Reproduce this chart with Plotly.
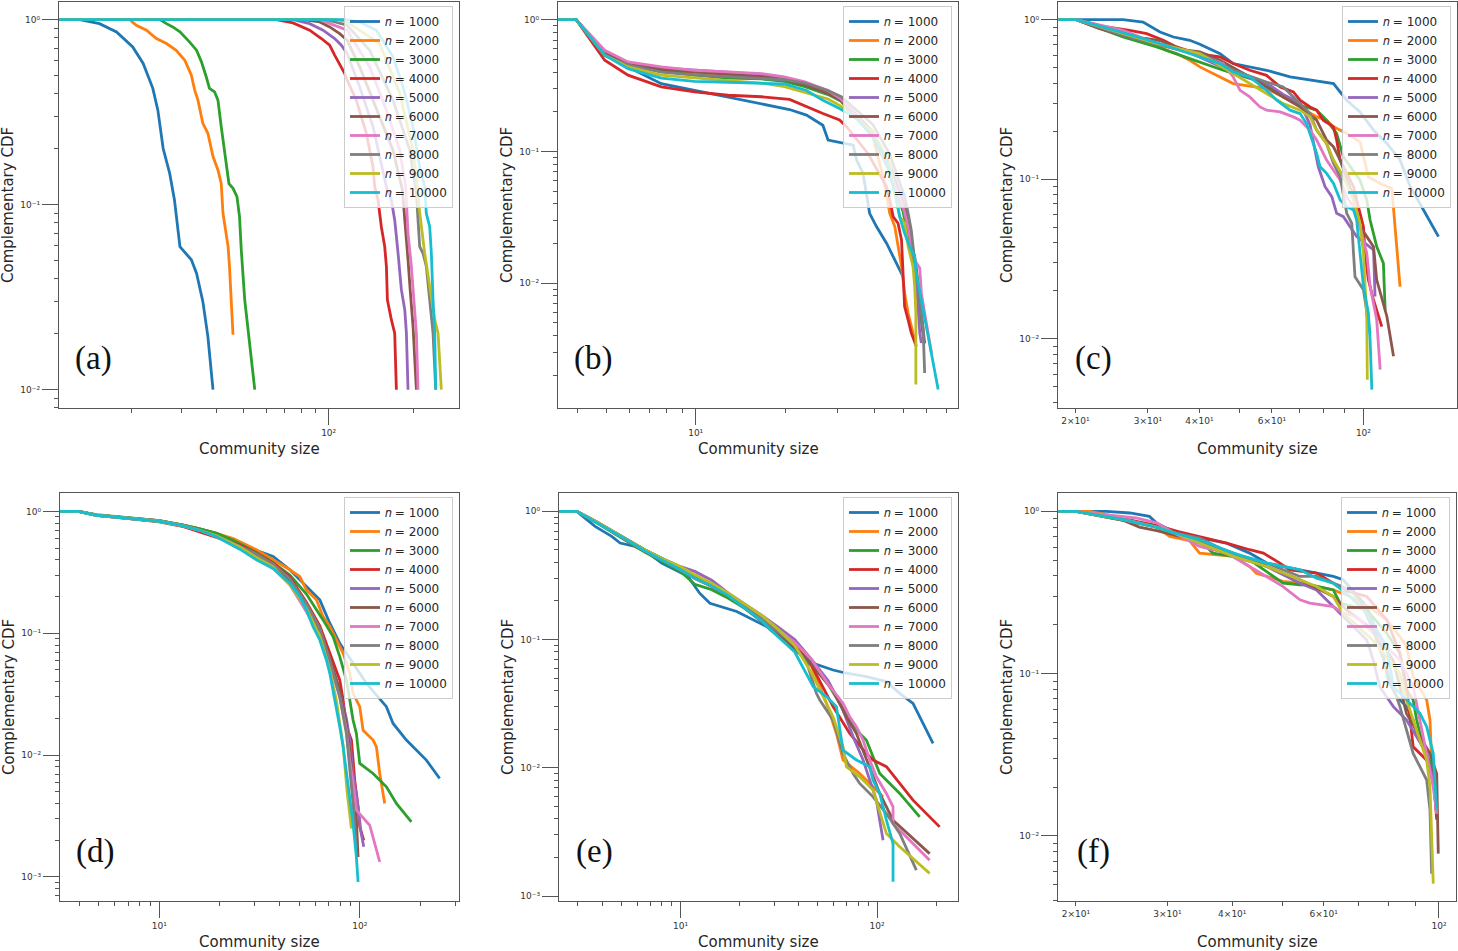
import math
import plotly.graph_objects as go

# ---------------- data ----------------
N_VALUES = [1000, 2000, 3000, 4000, 5000, 6000, 7000, 8000, 9000, 10000]
COLORS = ['#1f77b4', '#ff7f0e', '#2ca02c', '#d62728', '#9467bd',
          '#8c564b', '#e377c2', '#7f7f7f', '#bcbd22', '#17becf']
PANEL_LABELS = ['(a)', '(b)', '(c)', '(d)', '(e)', '(f)']
X_TITLE = 'Community size'
Y_TITLE = 'Complementary CDF'

A_X = [
    [11, 13.1, 15.4, 17.7, 20.2, 22.0, 23.8, 24.8, 25.9, 27.3, 28.4, 29.7, 32.6, 34.0, 35.8, 37.3, 38.9],
    [11, 19.7, 20.8, 22.6, 24.5, 26.6, 28.8, 30.9, 32.6, 33.5, 34.4, 35.8, 37.3, 38.9, 40.5, 41.6, 42.2, 43.4, 44.0, 44.5, 45.8],
    [11, 25.2, 26.6, 28.0, 29.7, 30.9, 32.1, 34.0, 35.4, 36.8, 37.8, 39.4, 40.5, 41.6, 42.8, 44.3, 45.8, 47.3, 48.3, 49.0, 50.4, 52.5, 54.7],
    [11, 65.2, 74.7, 85.6, 94.2, 100.8, 105.0, 109.4, 114.0, 116.2, 125.3, 136.0, 143.6, 145.6, 149.6, 153.7, 158.0, 160.2, 161.5, 166.8, 171.4, 173.8],
    [11, 74.7, 85.6, 95.5, 105.0, 110.9, 116.2, 128.8, 143.6, 151.6, 160.2, 166.8, 171.4, 176.2, 181.0, 186.1, 188.6, 191.1],
    [11, 81.1, 92.9, 100.8, 109.4, 116.2, 128.8, 151.6, 169.0, 182.5, 186.1, 191.1, 194.9, 199.1, 204.6],
    [11, 92.9, 116.2, 139.8, 160.2, 178.6, 187.5, 191.1, 196.4, 200.2, 204.6, 207.4],
    [11, 98.1, 116.2, 139.8, 169.0, 193.8, 204.6, 207.4, 210.2, 216.0, 221.9, 228.1, 234.4, 239.6],
    [11, 106.5, 116.2, 151.6, 178.6, 199.1, 207.4, 209.1, 213.2, 219.0, 228.1, 237.6, 244.2, 250.8],
    [11, 115.5, 128.8, 147.6, 169.0, 183.5, 199.1, 210.2, 219.0, 221.9, 228.1, 231.2, 234.4, 237.6, 239.6],
]
A_Y = [
    [1, 1, 0.951, 0.858, 0.712, 0.579, 0.425, 0.324, 0.201, 0.148, 0.106, 0.0593, 0.0503, 0.0426, 0.030, 0.0194, 0.01],
    [1, 1, 0.932, 0.876, 0.790, 0.742, 0.683, 0.603, 0.501, 0.416, 0.367, 0.275, 0.243, 0.182, 0.154, 0.130, 0.0898, 0.070, 0.0593, 0.0463, 0.0198],
    [1, 1, 0.951, 0.913, 0.858, 0.806, 0.758, 0.683, 0.591, 0.491, 0.425, 0.407, 0.367, 0.264, 0.197, 0.130, 0.1225, 0.1105, 0.0861, 0.0569, 0.0306, 0.0179, 0.01],
    [1, 1, 0.959, 0.876, 0.790, 0.727, 0.642, 0.567, 0.511, 0.471, 0.367, 0.243, 0.160, 0.125, 0.106, 0.076, 0.0593, 0.0463, 0.0306, 0.0239, 0.0202, 0.01],
    [1, 1, 0.951, 0.876, 0.790, 0.727, 0.656, 0.433, 0.264, 0.182, 0.125, 0.106, 0.0827, 0.0546, 0.0347, 0.027, 0.0202, 0.01],
    [1, 1, 0.971, 0.913, 0.840, 0.774, 0.555, 0.298, 0.197, 0.120, 0.0861, 0.0503, 0.0332, 0.022, 0.01],
    [1, 1, 0.876, 0.555, 0.324, 0.197, 0.125, 0.070, 0.0463, 0.0306, 0.0202, 0.01],
    [1, 1, 0.932, 0.683, 0.367, 0.197, 0.115, 0.0861, 0.0593, 0.0546, 0.0463, 0.0306, 0.0202, 0.01],
    [1, 1, 0.971, 0.742, 0.399, 0.197, 0.115, 0.0975, 0.076, 0.0546, 0.0361, 0.0239, 0.0202, 0.01],
    [1, 1, 0.971, 0.876, 0.629, 0.433, 0.264, 0.160, 0.125, 0.0898, 0.076, 0.0546, 0.0306, 0.0202, 0.01],
]

B_X = [
    [3.44, 3.96, 4.94, 5.92, 7.66, 9.92, 12.85, 14.6, 16.64, 20.7, 23.6, 26.8, 27.9, 32.2, 33.9, 34.8, 36.6, 38.5, 40.6, 43.9, 49.9],
    [3.44, 3.96, 4.94, 5.92, 7.66, 9.92, 12.85, 16.64, 19.9, 23.3, 27.9, 30.9, 39.5, 43.0, 45.0, 46.8, 48.0, 49.3, 50.5, 51.9, 53.2, 54.6],
    [3.44, 3.96, 4.94, 5.92, 7.66, 9.92, 12.85, 16.64, 19.9, 23.3, 27.9, 30.9, 39.5, 45.0, 49.9, 52.5, 55.3, 57.5, 58.3],
    [3.44, 3.96, 4.94, 5.92, 7.66, 9.92, 12.85, 16.64, 20.7, 23.6, 26.8, 30.5, 32.2, 38.0, 43.9, 45.0, 46.2, 48.0, 49.3, 49.9, 50.5, 51.9, 53.2, 55.3],
    [3.44, 3.96, 4.94, 5.92, 7.66, 9.92, 12.85, 16.64, 19.9, 23.3, 27.9, 30.9, 39.5, 45.0, 49.9, 51.9, 53.2, 54.6, 55.3, 56.1, 56.8, 57.5],
    [3.44, 3.96, 4.94, 5.92, 7.66, 9.92, 12.85, 16.64, 19.9, 23.3, 27.9, 30.9, 39.5, 45.0, 49.9, 52.5, 55.3, 57.5, 59.0],
    [3.44, 3.96, 4.94, 5.92, 7.66, 9.92, 12.85, 16.64, 19.9, 23.3, 27.9, 30.9, 39.5, 45.0, 49.9, 51.9, 53.2, 54.6, 56.8, 57.5, 59.0, 60.6, 62.2],
    [3.44, 3.96, 4.94, 5.92, 7.66, 9.92, 12.85, 16.64, 19.9, 23.3, 27.9, 30.9, 39.5, 45.0, 48.6, 50.5, 51.9, 53.2, 53.9, 55.1, 56.8, 58.3, 59.0],
    [3.44, 3.96, 4.94, 5.92, 7.66, 9.92, 12.85, 16.64, 19.9, 23.3, 27.9, 30.9, 39.5, 45.0, 47.4, 48.6, 50.5, 51.9, 53.9, 54.6, 55.1, 55.1],
    [3.44, 3.96, 4.94, 5.92, 7.66, 9.92, 12.85, 16.64, 19.9, 23.6, 26.8, 30.5, 34.8, 39.5, 43.9, 46.2, 47.4, 48.6, 50.5, 52.5, 54.6, 55.3, 57.5, 59.8, 62.2, 65.5],
]
B_Y = [
    [1, 1, 0.553, 0.438, 0.327, 0.291, 0.260, 0.245, 0.231, 0.208, 0.1885, 0.158, 0.122, 0.115, 0.1117, 0.086, 0.068, 0.0339, 0.0269, 0.0201, 0.01123],
    [1, 1, 0.553, 0.464, 0.425, 0.39, 0.38, 0.375, 0.36, 0.32, 0.28, 0.24, 0.13, 0.06, 0.0339, 0.0269, 0.019, 0.0134, 0.0084, 0.00593, 0.0047, 0.00372],
    [1, 1, 0.537, 0.451, 0.41, 0.38, 0.36, 0.355, 0.34, 0.31, 0.27, 0.24, 0.13, 0.07, 0.035, 0.02, 0.01, 0.005, 0.004],
    [1, 1, 0.492, 0.379, 0.309, 0.283, 0.267, 0.260, 0.248, 0.218, 0.194, 0.173, 0.154, 0.0966, 0.054, 0.0428, 0.032, 0.0285, 0.0213, 0.0119, 0.00666, 0.00527, 0.00418, 0.00331],
    [1, 1, 0.569, 0.464, 0.43, 0.413, 0.40, 0.385, 0.36, 0.33, 0.28, 0.25, 0.14, 0.08, 0.042, 0.032, 0.019, 0.016, 0.0106, 0.00593, 0.00418, 0.00351],
    [1, 1, 0.553, 0.464, 0.42, 0.40, 0.385, 0.37, 0.35, 0.32, 0.275, 0.245, 0.14, 0.075, 0.04, 0.025, 0.013, 0.006, 0.0035],
    [1, 1, 0.586, 0.478, 0.438, 0.413, 0.401, 0.390, 0.368, 0.337, 0.290, 0.250, 0.135, 0.0722, 0.0381, 0.0269, 0.019, 0.015, 0.013, 0.0084, 0.00593, 0.00418, 0.00295],
    [1, 1, 0.537, 0.451, 0.40, 0.38, 0.37, 0.36, 0.35, 0.33, 0.29, 0.26, 0.16, 0.095, 0.057, 0.0454, 0.0339, 0.0251, 0.019, 0.0119, 0.00748, 0.00443, 0.00208],
    [1, 1, 0.537, 0.438, 0.38, 0.36, 0.345, 0.33, 0.31, 0.28, 0.25, 0.22, 0.14, 0.08, 0.0428, 0.032, 0.0285, 0.019, 0.0134, 0.0094, 0.006, 0.0017],
    [1, 1, 0.537, 0.425, 0.36, 0.34, 0.335, 0.33, 0.325, 0.29, 0.245, 0.212, 0.178, 0.129, 0.0859, 0.054, 0.0428, 0.032, 0.0239, 0.019, 0.0159, 0.0119, 0.00748, 0.0047, 0.00295, 0.00156],
]

C_X = [
    [18.2, 26.1, 29.2, 32.1, 34.6, 37.9, 40.1, 44.9, 48.3, 58.2, 66.4, 75.6, 84.6, 91.1, 98.1, 105.8, 114.0, 122.7, 129.9, 139.9, 152.1],
    [18.2, 20.1, 23.8, 27.1, 29.8, 33.3, 35.2, 37.9, 40.1, 48.3, 58.2, 63.9, 70.2, 77.0, 81.4, 84.6, 91.1, 98.1, 102.8, 109.8, 117.2, 122.7],
    [18.2, 20.1, 26.1, 31.5, 37.9, 45.7, 58.2, 63.9, 70.2, 77.0, 81.4, 86.1, 89.4, 98.1, 101.9, 103.8, 107.7, 111.8, 112.9],
    [18.2, 20.1, 23.8, 27.1, 29.8, 32.7, 35.2, 39.4, 44.9, 48.3, 53.0, 58.2, 62.8, 67.6, 70.2, 74.2, 77.0, 79.9, 84.6, 86.1, 87.8, 94.6, 97.2, 100.0, 100.9, 102.8, 105.8, 110.8],
    [18.2, 20.1, 23.8, 29.8, 37.9, 45.7, 50.6, 58.2, 63.9, 70.2, 74.2, 77.7, 80.7, 83.8, 86.1, 89.4, 96.3, 105.8, 106.7],
    [18.2, 20.1, 22.9, 27.1, 29.8, 32.1, 36.3, 40.1, 44.9, 53.0, 63.9, 70.2, 77.0, 81.4, 84.6, 87.8, 94.6, 98.1, 101.9, 105.8, 107.7, 114.0, 118.3],
    [18.2, 20.1, 26.1, 31.5, 39.4, 45.7, 48.3, 50.2, 53.0, 56.1, 58.2, 62.8, 67.6, 70.2, 74.2, 77.0, 81.4, 84.6, 87.8, 91.1, 94.6, 98.1, 101.9, 103.8, 107.7, 109.8],
    [18.2, 20.1, 26.1, 31.5, 40.1, 48.3, 58.2, 63.9, 67.6, 70.2, 74.2, 77.0, 81.4, 84.6, 87.8, 91.1, 93.7, 94.6, 95.4, 100.0, 103.8],
    [18.2, 20.1, 26.1, 31.5, 40.1, 48.3, 53.0, 58.2, 63.9, 70.2, 74.2, 77.0, 81.4, 84.6, 89.4, 94.6, 98.1, 100.0, 100.9, 101.9, 102.2],
    [18.2, 20.1, 26.1, 31.5, 40.1, 44.9, 48.3, 53.0, 58.2, 61.6, 66.4, 70.2, 72.8, 74.2, 75.6, 77.0, 78.5, 81.4, 84.6, 87.8, 91.1, 94.6, 96.3, 98.1, 100.0, 102.8, 103.8, 104.8],
]
C_Y = [
    [1, 1, 0.967, 0.837, 0.779, 0.743, 0.701, 0.613, 0.531, 0.482, 0.438, 0.417, 0.398, 0.313, 0.264, 0.203, 0.1675, 0.132, 0.0898, 0.0641, 0.0437],
    [1, 1, 0.858, 0.779, 0.761, 0.643, 0.613, 0.557, 0.506, 0.398, 0.370, 0.328, 0.284, 0.246, 0.2345, 0.213, 0.1935, 0.1717, 0.1036, 0.0941, 0.0876, 0.02125],
    [1, 1, 0.779, 0.675, 0.570, 0.482, 0.398, 0.328, 0.291, 0.271, 0.2345, 0.1935, 0.138, 0.0988, 0.0741, 0.0555, 0.0378, 0.0297, 0.0152],
    [1, 1, 0.900, 0.858, 0.817, 0.743, 0.675, 0.613, 0.584, 0.531, 0.482, 0.448, 0.379, 0.353, 0.313, 0.284, 0.271, 0.2345, 0.213, 0.176, 0.132, 0.0898, 0.0673, 0.0504, 0.0344, 0.0234, 0.0175, 0.0119],
    [1, 1, 0.858, 0.73, 0.62, 0.50, 0.45, 0.40, 0.34, 0.30, 0.22, 0.1197, 0.0898, 0.0777, 0.0611, 0.0583, 0.0437, 0.036, 0.0184],
    [1, 1, 0.88, 0.779, 0.761, 0.74, 0.65, 0.628, 0.557, 0.438, 0.328, 0.284, 0.2345, 0.176, 0.1597, 0.132, 0.0777, 0.0504, 0.0437, 0.0378, 0.0234, 0.0138, 0.00776],
    [1, 1, 0.858, 0.708, 0.613, 0.531, 0.438, 0.361, 0.328, 0.284, 0.271, 0.264, 0.246, 0.2345, 0.203, 0.176, 0.132, 0.114, 0.0988, 0.0777, 0.0673, 0.0504, 0.0344, 0.0213, 0.01315, 0.0064],
    [1, 1, 0.80, 0.70, 0.613, 0.482, 0.407, 0.379, 0.328, 0.298, 0.258, 0.203, 0.1675, 0.1256, 0.1037, 0.0611, 0.0529, 0.0344, 0.0245, 0.0203, 0.01085],
    [1, 1, 0.82, 0.71, 0.613, 0.459, 0.398, 0.344, 0.298, 0.271, 0.246, 0.203, 0.1675, 0.132, 0.1037, 0.0741, 0.0529, 0.0344, 0.0213, 0.01315, 0.00554],
    [1, 1, 0.83, 0.72, 0.584, 0.531, 0.47, 0.438, 0.361, 0.313, 0.271, 0.258, 0.2235, 0.1935, 0.1675, 0.145, 0.1197, 0.1088, 0.0941, 0.0741, 0.0673, 0.0641, 0.0555, 0.0344, 0.0213, 0.0145, 0.00986, 0.0048],
]

D_X = [
    [3.2, 3.95, 4.87, 6.13, 8.01, 10, 13.2, 15.9, 19.3, 23.4, 28.3, 37.0, 44.8, 54.2, 63.2, 70.9, 79.5, 85.8, 108.0, 135.8, 146.6, 170.8, 214.8, 250.4],
    [3.2, 3.95, 4.87, 6.13, 8.01, 10, 13.2, 15.9, 19.3, 23.4, 30.5, 37.0, 44.8, 50.2, 54.2, 60.8, 65.6, 70.9, 76.5, 82.6, 89.2, 92.6, 100, 103.9, 116.5, 121.1, 125.8, 133.2],
    [3.2, 3.95, 4.87, 6.13, 8.01, 10, 13.2, 15.9, 19.3, 23.4, 30.5, 37.0, 44.8, 54.2, 65.6, 73.6, 79.5, 85.8, 89.2, 92.6, 96.2, 100, 116.5, 135.8, 152.3, 180.9],
    [3.2, 3.95, 4.87, 6.13, 8.01, 10, 13.2, 15.9, 19.3, 25.2, 30.5, 37.0, 44.8, 54.2, 63.2, 70.9, 79.5, 82.6, 85.8, 90.9, 92.6, 94.4, 98.1, 100.0, 104.7],
    [3.2, 3.95, 4.87, 6.13, 8.01, 10, 13.2, 15.9, 19.3, 25.2, 30.5, 37.0, 44.8, 54.2, 63.2, 70.9, 79.5, 85.8, 89.2, 92.6, 98.1, 101.6, 104.7],
    [3.2, 3.95, 4.87, 6.13, 8.01, 10, 13.2, 15.9, 19.3, 25.2, 30.5, 37.0, 44.8, 54.2, 63.2, 70.9, 79.5, 85.8, 89.2, 92.6, 96.2, 98.1],
    [3.2, 3.95, 4.87, 6.13, 8.01, 10, 13.2, 15.9, 19.3, 25.2, 30.5, 37.0, 44.8, 54.2, 63.2, 70.9, 79.5, 85.8, 89.2, 92.6, 96.2, 112.1, 125.8],
    [3.2, 3.95, 4.87, 6.13, 8.01, 10, 13.2, 15.9, 19.3, 25.2, 30.5, 37.0, 44.8, 54.2, 63.2, 70.9, 79.5, 85.8, 89.2, 92.6, 96.2],
    [3.2, 3.95, 4.87, 6.13, 8.01, 10, 13.2, 15.9, 19.3, 25.2, 30.5, 37.0, 44.8, 54.2, 63.2, 70.9, 76.5, 82.6, 86.5, 90.9],
    [3.2, 3.95, 4.87, 6.13, 8.01, 10, 13.2, 15.9, 19.3, 25.2, 30.5, 37.0, 44.8, 50.2, 54.2, 58.5, 63.2, 68.2, 70.9, 73.6, 76.5, 79.5, 82.6, 85.8, 89.2, 92.6, 96.2, 98.1],
]
D_Y = [
    [1, 1, 0.93, 0.90, 0.86, 0.84, 0.77, 0.72, 0.66, 0.58, 0.50, 0.427, 0.332, 0.242, 0.188, 0.121, 0.0828, 0.0685, 0.0388, 0.025, 0.0182, 0.0133, 0.0091, 0.00643],
    [1, 1, 0.93, 0.90, 0.86, 0.84, 0.77, 0.72, 0.66, 0.60, 0.484, 0.401, 0.332, 0.292, 0.227, 0.188, 0.137, 0.1135, 0.0881, 0.0685, 0.0469, 0.0321, 0.025, 0.016, 0.0133, 0.0117, 0.00707, 0.00401],
    [1, 1, 0.94, 0.91, 0.87, 0.84, 0.77, 0.72, 0.66, 0.58, 0.46, 0.38, 0.30, 0.21, 0.1288, 0.0939, 0.0643, 0.0413, 0.0283, 0.0194, 0.0151, 0.00854, 0.00707, 0.0055, 0.00401, 0.00283],
    [1, 1, 0.93, 0.89, 0.85, 0.82, 0.75, 0.68, 0.61, 0.53, 0.454, 0.376, 0.29, 0.18, 0.115, 0.07, 0.0413, 0.0283, 0.0171, 0.0133, 0.0097, 0.00623, 0.00376, 0.00258, 0.002],
    [1, 1, 0.93, 0.90, 0.86, 0.83, 0.76, 0.70, 0.63, 0.51, 0.43, 0.36, 0.27, 0.17, 0.10, 0.06, 0.033, 0.02, 0.0133, 0.00707, 0.00376, 0.00229, 0.00177],
    [1, 1, 0.93, 0.90, 0.86, 0.83, 0.76, 0.70, 0.63, 0.51, 0.43, 0.36, 0.27, 0.17, 0.105, 0.062, 0.034, 0.018, 0.011, 0.006, 0.003, 0.00146],
    [1, 1, 0.93, 0.90, 0.86, 0.83, 0.76, 0.70, 0.62, 0.50, 0.41, 0.34, 0.25, 0.15, 0.095, 0.055, 0.03, 0.016, 0.009, 0.006, 0.00353, 0.00266, 0.00133],
    [1, 1, 0.93, 0.90, 0.86, 0.83, 0.76, 0.70, 0.63, 0.52, 0.45, 0.37, 0.28, 0.175, 0.11, 0.06, 0.03, 0.015, 0.008, 0.004, 0.0017],
    [1, 1, 0.93, 0.90, 0.86, 0.83, 0.76, 0.70, 0.63, 0.51, 0.42, 0.35, 0.25, 0.16, 0.095, 0.05, 0.028, 0.012, 0.005, 0.0025],
    [1, 1, 0.93, 0.90, 0.86, 0.83, 0.76, 0.70, 0.62, 0.49, 0.401, 0.34, 0.2576, 0.2, 0.1555, 0.1135, 0.0881, 0.0604, 0.0469, 0.0342, 0.025, 0.0171, 0.0117, 0.00707, 0.00427, 0.00274, 0.00146, 0.00091],
]

E_X = [
    [2.4, 2.96, 3.67, 4.46, 4.92, 5.86, 6.85, 8.01, 9.36, 10.9, 12.5, 14.1, 19.3, 27.4, 36.0, 47.3, 59.7, 69.8, 88.3, 111.6, 130.4, 152.4, 171.4, 192.7],
    [2.4, 2.96, 3.67, 4.46, 5.42, 6.59, 8.01, 10, 11.8, 14.4, 17.5, 21.2, 25.8, 31.4, 38.1, 46.4, 55.3, 62.1, 67.1, 81.6, 95.4, 107.3],
    [2.4, 2.96, 3.67, 4.46, 5.42, 6.59, 8.01, 10, 11.8, 14.4, 17.5, 21.2, 25.8, 31.4, 38.1, 46.4, 56.3, 66, 81.6, 88.3, 103.2, 130.4, 164.8],
    [2.4, 2.96, 3.67, 4.46, 5.42, 6.59, 8.01, 10, 11.8, 14.4, 17.5, 21.2, 25.8, 31.4, 38.1, 46.4, 59.7, 72.6, 88.3, 95.4, 111.6, 130.4, 152.4, 208.3],
    [2.4, 2.96, 3.67, 4.46, 5.42, 6.59, 8.01, 10, 11.8, 14.4, 17.5, 21.2, 25.8, 31.4, 38.1, 46.4, 56.3, 66, 75.5, 84.9, 91.8, 99.2, 107.3],
    [2.4, 2.96, 3.67, 4.46, 5.42, 6.59, 8.01, 10, 11.8, 14.4, 17.5, 21.2, 25.8, 31.4, 38.1, 46.4, 59.7, 69.8, 78.5, 88.3, 103.2, 120.6, 185.2],
    [2.4, 2.96, 3.67, 4.46, 5.42, 6.59, 8.01, 10, 11.8, 14.4, 17.5, 21.2, 25.8, 31.4, 38.1, 46.4, 56.3, 67.1, 72.6, 78.5, 84.9, 91.8, 99.2, 111.6, 120.6, 120.6, 140.9, 185.2],
    [2.4, 2.96, 3.67, 4.46, 5.42, 6.59, 8.01, 10, 11.8, 14.4, 17.5, 21.2, 25.8, 31.4, 38.1, 44, 49.1, 51.1, 59.7, 67.1, 75.5, 81.6, 95.4, 111.6, 130.4, 158.5],
    [2.4, 2.96, 3.67, 4.46, 5.42, 6.59, 8.01, 10, 11.8, 14.4, 17.5, 21.2, 25.8, 31.4, 38.1, 46.4, 59.7, 67.1, 69.8, 81.6, 95.4, 111.6, 130.4, 185.2],
    [2.4, 2.96, 3.67, 4.46, 5.42, 6.59, 8.01, 10, 11.8, 14.4, 17.5, 21.2, 25.8, 31.4, 38.1, 47.3, 55.3, 62.1, 64.6, 67.1, 78.5, 91.8, 95.4, 103.2, 111.6, 120.6, 120.6],
]
E_Y = [
    [1, 1, 0.763, 0.638, 0.566, 0.533, 0.473, 0.395, 0.350, 0.311, 0.230, 0.192, 0.1655, 0.1264, 0.0882, 0.0653, 0.0579, 0.0546, 0.0514, 0.047, 0.0381, 0.0318, 0.0222, 0.0155],
    [1, 1, 0.83, 0.70, 0.59, 0.49, 0.42, 0.35, 0.30, 0.26, 0.22, 0.18, 0.14, 0.112, 0.088, 0.062, 0.0318, 0.0185, 0.0115, 0.00903, 0.0071, 0.00593],
    [1, 1, 0.83, 0.69, 0.58, 0.48, 0.41, 0.34, 0.27, 0.245, 0.21, 0.175, 0.14, 0.112, 0.09, 0.065, 0.045, 0.030, 0.0185, 0.0164, 0.00903, 0.00631, 0.00414],
    [1, 1, 0.835, 0.70, 0.59, 0.49, 0.42, 0.35, 0.30, 0.26, 0.22, 0.18, 0.145, 0.118, 0.092, 0.063, 0.030, 0.0185, 0.0129, 0.0115, 0.0102, 0.00755, 0.00559, 0.00346],
    [1, 1, 0.84, 0.71, 0.60, 0.50, 0.43, 0.37, 0.34, 0.29, 0.23, 0.19, 0.155, 0.125, 0.10, 0.07, 0.048, 0.03, 0.0175, 0.0115, 0.008, 0.00559, 0.00272],
    [1, 1, 0.84, 0.71, 0.60, 0.50, 0.43, 0.36, 0.30, 0.26, 0.22, 0.175, 0.14, 0.11, 0.085, 0.064, 0.04, 0.025, 0.0185, 0.0115, 0.00631, 0.0039, 0.00214],
    [1, 1, 0.84, 0.70, 0.59, 0.49, 0.42, 0.35, 0.30, 0.26, 0.22, 0.18, 0.15, 0.12, 0.095, 0.07, 0.045, 0.0318, 0.025, 0.0209, 0.0164, 0.0115, 0.0085, 0.00631, 0.00496, 0.00367, 0.00289, 0.0019],
    [1, 1, 0.84, 0.71, 0.60, 0.50, 0.43, 0.36, 0.31, 0.265, 0.22, 0.18, 0.145, 0.115, 0.09, 0.065, 0.0381, 0.0338, 0.0236, 0.0129, 0.00903, 0.00755, 0.00593, 0.0044, 0.00307, 0.00159],
    [1, 1, 0.84, 0.71, 0.60, 0.50, 0.43, 0.37, 0.32, 0.275, 0.23, 0.19, 0.155, 0.12, 0.09, 0.055, 0.025, 0.0146, 0.0102, 0.0085, 0.0067, 0.00307, 0.00242, 0.0015],
    [1, 1, 0.83, 0.70, 0.59, 0.49, 0.42, 0.35, 0.30, 0.26, 0.22, 0.175, 0.14, 0.105, 0.08, 0.043, 0.0359, 0.030, 0.0209, 0.0137, 0.0115, 0.0102, 0.008, 0.00631, 0.0039, 0.00256, 0.00129],
]

F_X = [
    [18.5, 22.9, 25.4, 27.7, 28.6, 30.3, 34.6, 39.0, 43.2, 46.6, 54.0, 58.1, 62.6, 65.4, 72.6, 76.9, 79.9, 82.9, 86.6, 89.2, 90.6],
    [18.5, 21.3, 24.7, 26.5, 28.6, 30.3, 33.1, 34.6, 40.2, 43.2, 44.5, 50.1, 54.0, 62.6, 67.4, 74.7, 79.3, 84.1, 86.6, 89.2, 94.7, 96.1, 97.2],
    [18.5, 20.0, 24.7, 28.6, 30.8, 34.6, 36.7, 40.2, 43.2, 50.1, 54.0, 56.4, 62.6, 64.5, 72.6, 79.3, 84.1, 86.6, 89.2, 90.6, 91.9, 94.7, 97.5, 99.0],
    [18.5, 20.0, 24.7, 28.6, 31.5, 34.6, 39.0, 43.2, 45.9, 49.4, 51.6, 58.1, 62.6, 65.4, 72.6, 79.3, 84.1, 86.6, 89.2, 94.7, 97.5, 99.0],
    [18.5, 20.0, 24.7, 28.6, 30.8, 34.6, 40.2, 46.6, 54.0, 58.1, 62.6, 66.4, 72.6, 74.7, 76.9, 81.7, 86.6, 90.6, 94.7, 97.5, 99.0],
    [18.5, 20.0, 24.7, 26.5, 28.6, 34.6, 40.2, 46.6, 54.0, 62.6, 66.4, 74.7, 81.7, 86.6, 91.9, 96.1, 99.0, 99.7],
    [18.5, 20.0, 22.9, 26.1, 28.6, 30.8, 34.6, 39.0, 43.2, 46.6, 50.1, 54.0, 56.4, 62.6, 65.4, 69.4, 84.1, 89.2, 91.9, 94.7, 97.5, 99.0],
    [18.5, 20.0, 24.7, 28.6, 30.8, 34.6, 40.2, 46.6, 54.0, 58.1, 62.6, 67.4, 70.4, 74.7, 84.1, 89.2, 91.9, 94.7, 96.1, 96.8],
    [18.5, 20.0, 24.7, 28.6, 30.8, 34.6, 40.2, 46.6, 54.0, 58.1, 62.6, 65.4, 74.7, 84.1, 86.6, 89.2, 91.9, 94.7, 96.1, 97.5],
    [18.5, 20.0, 24.7, 28.6, 30.8, 34.6, 40.2, 46.6, 54.0, 58.1, 62.6, 67.4, 72.6, 79.3, 81.7, 86.6, 91.9, 94.7, 97.5, 98.2, 99.0],
]
F_Y = [
    [1, 1, 0.977, 0.931, 0.847, 0.770, 0.685, 0.637, 0.553, 0.480, 0.436, 0.416, 0.397, 0.379, 0.259, 0.1614, 0.0914, 0.0721, 0.0626, 0.0518, 0.0428],
    [1, 1, 0.91, 0.85, 0.80, 0.70, 0.66, 0.553, 0.528, 0.457, 0.416, 0.37, 0.361, 0.328, 0.299, 0.247, 0.2145, 0.1692, 0.1468, 0.0958, 0.0688, 0.0518, 0.021],
    [1, 1, 0.88, 0.80, 0.72, 0.668, 0.553, 0.528, 0.503, 0.361, 0.353, 0.353, 0.328, 0.272, 0.247, 0.1775, 0.1335, 0.0793, 0.0688, 0.0518, 0.0428, 0.0322, 0.0254, 0.0158],
    [1, 1, 0.90, 0.82, 0.75, 0.70, 0.637, 0.58, 0.553, 0.480, 0.436, 0.416, 0.361, 0.328, 0.299, 0.2145, 0.1335, 0.0831, 0.0354, 0.0293, 0.0242, 0.0126],
    [1, 1, 0.90, 0.80, 0.73, 0.637, 0.528, 0.457, 0.361, 0.328, 0.259, 0.2145, 0.1614, 0.1214, 0.0831, 0.0626, 0.0518, 0.0408, 0.0322, 0.0221, 0.0137],
    [1, 1, 0.88, 0.80, 0.76, 0.652, 0.553, 0.457, 0.379, 0.299, 0.247, 0.186, 0.12, 0.0569, 0.0408, 0.0322, 0.0242, 0.00778],
    [1, 1, 0.95, 0.91, 0.85, 0.74, 0.608, 0.553, 0.457, 0.397, 0.344, 0.285, 0.272, 0.259, 0.236, 0.225, 0.1214, 0.0831, 0.0518, 0.0322, 0.02, 0.0137],
    [1, 1, 0.89, 0.80, 0.74, 0.685, 0.54, 0.48, 0.397, 0.397, 0.361, 0.328, 0.285, 0.186, 0.0626, 0.0322, 0.0267, 0.0221, 0.0144, 0.00585],
    [1, 1, 0.89, 0.80, 0.74, 0.637, 0.528, 0.457, 0.379, 0.344, 0.299, 0.236, 0.16, 0.1005, 0.0688, 0.0518, 0.039, 0.0293, 0.02, 0.00508],
    [1, 1, 0.89, 0.80, 0.74, 0.668, 0.553, 0.48, 0.436, 0.388, 0.361, 0.299, 0.236, 0.147, 0.0831, 0.0688, 0.0569, 0.0471, 0.0322, 0.0221, 0.0144],
]

# ---------------- layout / styling ----------------
W, H = 1458, 951
FONT = 'DejaVu Sans'
AXC = '#555555'
TICKSIZE = 9
SUPS = {'0': '\u2070', '1': '\u00b9', '2': '\u00b2', '3': '\u00b3', '-': '\u207b'}


def px_x(p):
    return p / W


def px_y(p):
    return 1 - p / H


# pixel boxes of each axes frame: (left, right, top, bottom)
BOXES = [(59, 459, 2, 408), (558, 958, 2, 408), (1058, 1457, 2, 408),
         (60, 459, 493, 901), (559, 958, 493, 901), (1058, 1456, 493, 901)]
XRANGES = [(1.044, 2.462), (0.5365, 1.883), (1.259, 2.227),
           (0.505, 2.495), (0.381, 2.412), (1.2665, 2.0328)]
YRANGES = [(-2.099, 0.095), (-2.947, 0.134), (-2.434, 0.111),
           (-3.197, 0.151), (-3.039, 0.143), (-2.401, 0.113)]

DATA = [(A_X, A_Y), (B_X, B_Y), (C_X, C_Y), (D_X, D_Y), (E_X, E_Y), (F_X, F_Y)]


def sup(e):
    return '10' + ''.join(SUPS[c] for c in str(e))


def decade_ticks(lo, hi):
    return [10.0 ** e for e in range(math.ceil(lo), math.floor(hi) + 1)]


def minor_ticks(lo, hi, skip=()):
    vals = []
    for e in range(math.floor(lo) - 1, math.ceil(hi) + 1):
        for k in range(2, 10):
            v = k * 10.0 ** e
            if lo <= math.log10(v) <= hi and k * 10 ** e not in skip:
                vals.append(v)
    return vals


fig = go.Figure()

for i, (xs, ys) in enumerate(DATA):
    sfx = '' if i == 0 else str(i + 1)
    leg = 'legend' if i == 0 else 'legend%d' % (i + 1)
    for j, n in enumerate(N_VALUES):
        m = min(len(xs[j]), len(ys[j]))
        fig.add_trace(go.Scatter(
            x=xs[j][:m], y=ys[j][:m], mode='lines',
            name='\U0001D45B = %d' % n,
            line=dict(color=COLORS[j], width=2.8),
            xaxis='x' + sfx, yaxis='y' + sfx, legend=leg,
            hoverinfo='skip'))

layout = dict(
    width=W, height=H, margin=dict(l=0, r=0, t=0, b=0),
    paper_bgcolor='white', plot_bgcolor='white',
    font=dict(family=FONT, color='#262626'),
    annotations=[],
)

for i in range(6):
    sfx = '' if i == 0 else str(i + 1)
    l, r, t, b = BOXES[i]
    xr, yr = XRANGES[i], YRANGES[i]
    base = dict(type='log', showgrid=False, zeroline=False, showline=True,
                linecolor=AXC, linewidth=1.3, mirror=True,
                ticks='outside', tickwidth=1, tickcolor=AXC,
                tickfont=dict(size=TICKSIZE, color='#333333', family=FONT))
    xa = dict(base, domain=[px_x(l), px_x(r)], range=list(xr),
              anchor='y' + sfx)
    if i in (2, 5):
        labeled = [20, 30, 40, 60]
        xa.update(tickmode='array', tickvals=labeled,
                  ticktext=['%d\u00d710\u00b9' % (v // 10) for v in labeled],
                  ticklen=4,
                  minor=dict(ticks='outside', ticklen=4, tickwidth=1, tickcolor=AXC,
                             tickmode='array', showgrid=False,
                             tickvals=minor_ticks(xr[0], xr[1], skip=labeled)))
    else:
        xa.update(tickmode='array', tickvals=decade_ticks(*xr),
                  ticktext=[sup(round(math.log10(v))) for v in decade_ticks(*xr)],
                  ticklen=16,
                  minor=dict(ticks='outside', ticklen=4, tickwidth=1, tickcolor=AXC,
                             tickmode='array', showgrid=False,
                             tickvals=minor_ticks(*xr)))
    ya = dict(base, domain=[px_y(b), px_y(t)], range=list(yr),
              anchor='x' + sfx,
              tickmode='array', tickvals=decade_ticks(*yr),
              ticktext=[sup(round(math.log10(v))) for v in decade_ticks(*yr)],
              ticklen=16,
              minor=dict(ticks='outside', ticklen=4, tickwidth=1, tickcolor=AXC,
                         tickmode='array', showgrid=False,
                         tickvals=minor_ticks(*yr)))
    layout['xaxis' + sfx] = xa
    layout['yaxis' + sfx] = ya

    leg = 'legend' if i == 0 else 'legend%d' % (i + 1)
    layout[leg] = dict(x=px_x(r - 6), y=px_y(t + 4), xanchor='right', yanchor='top',
                       bgcolor='rgba(255,255,255,0.8)', bordercolor='#cccccc',
                       borderwidth=1, font=dict(size=12, family=FONT, color='#262626'),
                       tracegroupgap=0, itemwidth=30)

    cx = (l + r) / 2
    layout['annotations'].append(dict(
        text=X_TITLE, x=px_x(cx), y=px_y(b + 41), xref='paper', yref='paper',
        showarrow=False, font=dict(size=15, family=FONT, color='#262626'),
        xanchor='center', yanchor='middle'))
    layout['annotations'].append(dict(
        text=Y_TITLE, x=px_x(l - 51), y=px_y((t + b) / 2), xref='paper', yref='paper',
        showarrow=False, textangle=-90, font=dict(size=15, family=FONT, color='#262626'),
        xanchor='center', yanchor='middle'))
    layout['annotations'].append(dict(
        text=PANEL_LABELS[i], x=px_x(l + 35), y=px_y(b - 50), xref='paper', yref='paper',
        showarrow=False, font=dict(size=33, family='Liberation Serif', color='#111111'),
        xanchor='center', yanchor='middle'))

# overlay axes carrying the long 10^2 major tick on panels (c) and (f)
for k, (host, ysfx) in enumerate([('x3', 'y3'), ('x6', 'y6')]):
    idx = 2 if host == 'x3' else 5
    name = 'xaxis%d' % (7 + k)
    layout[name] = dict(type='log', overlaying=host, anchor=ysfx, side='bottom',
                        range=list(XRANGES[idx]), showgrid=False, zeroline=False,
                        showline=False, ticks='outside', ticklen=16, tickwidth=1,
                        tickcolor=AXC, tickmode='array', tickvals=[100],
                        ticktext=[sup(2)],
                        tickfont=dict(size=TICKSIZE, color='#333333', family=FONT))
    fig.add_trace(go.Scatter(x=[None], y=[None], xaxis='x%d' % (7 + k), yaxis=ysfx,
                             showlegend=False, hoverinfo='skip'))

fig.update_layout(**layout)

fig.write_html("out.html", config={'displayModeBar': False},
               post_script="document.body.style.margin='0';document.body.style.overflow='hidden';")
